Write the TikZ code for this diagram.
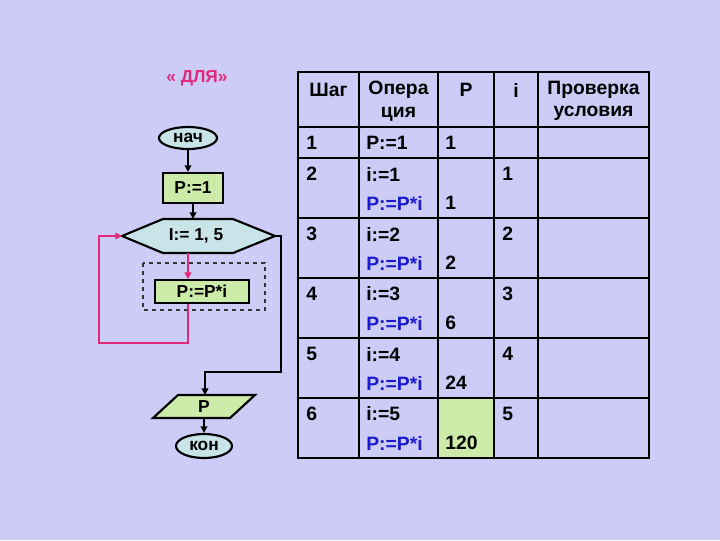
\documentclass[tikz,border=0pt]{standalone}
\usepackage{fontspec}
\setmainfont{Liberation Sans}
\usetikzlibrary{shapes.geometric,arrows.meta}
\definecolor{bg}{HTML}{CCCCF6}
\definecolor{gr}{HTML}{CCEBA8}
\definecolor{cy}{HTML}{C8E4E8}
\definecolor{pk}{HTML}{E2287A}
\definecolor{bl}{HTML}{1A1AD0}
\begin{document}
\begin{tikzpicture}[x=0.75pt,y=-0.75pt,
 txt/.style={font=\fontsize{13}{15}\selectfont\bfseries},
 tt/.style={font=\fontsize{14.5}{17}\selectfont\bfseries,anchor=west,inner sep=0},
 th/.style={font=\fontsize{14.5}{17}\selectfont\bfseries,inner sep=0,align=center},
 blk/.style={draw=black,line width=1.6pt},
 arr/.style={line width=1.6pt,-{Triangle[length=5pt,width=5pt]}}]
\fill[bg] (0,0) rectangle (720,540);
\useasboundingbox (0,0) rectangle (720,540);
% flowchart
\node[txt,text=pk] (title) at (197,78) {« ДЛЯ»};
\node[blk,fill=cy,ellipse,minimum width=43.5pt,minimum height=16.5pt,inner sep=0,txt] (start) at (188,138) {нач};
\node[blk,fill=gr,minimum width=45pt,minimum height=22.5pt,inner sep=0,txt] (p1) at (193,188) {P:=1};
\draw[blk,fill=cy] (122,236) -- (163,219) -- (233,219) -- (275,236) -- (233,253) -- (163,253) -- cycle;
\node[txt] (loop) at (196,236) {I:= 1, 5};
\coordinate (hl) at (122,236); \coordinate (hr) at (275,236);
\coordinate (ht) at (193,219); \coordinate (hb) at (188,253);
\draw[dashed,line width=1.4pt,draw=black!80] (143,263) rectangle (265,310);
\node[blk,fill=gr,minimum width=71pt,minimum height=17pt,inner sep=0,txt] (body) at (202,291.5) {P:=P*i};
\draw[blk,fill=gr] (178,395) -- (255,395) -- (230,418) -- (153,418) -- cycle;
\node[txt] (out) at (204,406.5) {P};
\coordinate (outb) at (204,418);
\node[blk,fill=cy,ellipse,minimum width=42pt,minimum height=18pt,inner sep=0,txt] (end) at (204,446) {кон};
\draw[arr] (start) -- (start.south |- p1.north);
\draw[arr] (p1.south) -- (ht);
\draw[arr,draw=pk] (hb) -- (hb |- body.north);
\draw[arr,draw=pk] (hb |- body.south) -- (188,343) -- (99,343) -- (99,236) -- (hl);
\draw[arr] (hr) -- (281,236) -- (281,372) -- (205,372) -- (205,395);
\draw[arr] (outb) -- (end.north);
% table
\fill[gr] (438,398) rectangle (494,458);
\draw[line width=1.5pt] (298,72) rectangle (649,458);
\foreach \x in {359,438,494,538} \draw[line width=1.2pt] (\x,72) -- (\x,458);
\foreach \y in {127,158,218,278,338,398} \draw[line width=1.2pt] (298,\y) -- (649,\y);
\node[th] (h1) at (328.5,90) {Шаг};
\node[th] (h2) at (398.5,101) {Опера\\ция};
\node[th] (h3) at (466,90) {P};
\node[th] (h4) at (516,90) {i};
\node[th] (h5) at (593.5,101) {Проверка\\условия};
\node[tt] (s1) at (306,143) {1};
\node[tt] (o1) at (366,143) {P:=1};
\node[tt] (v1) at (445,143) {1};
\foreach \r/\i/\p [count=\k from 2] in {158/1/1,218/2/2,278/3/6,338/4/24,398/5/120}{
 \node[tt] at (306,\r+16) {\k};
 \node[tt] at (366,\r+16) {i:=\i};
 \node[tt,text=bl] at (366,\r+45) {P:=P*i};
 \node[tt] at (445,\r+45) {\p};
 \node[tt] at (502,\r+16) {\i};
}
\end{tikzpicture}
\end{document}
